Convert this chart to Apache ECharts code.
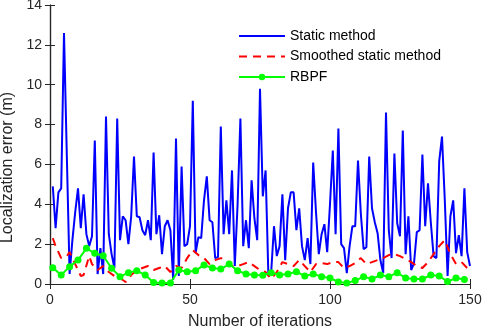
<!DOCTYPE html>
<html>
<head>
<meta charset="utf-8">
<script src="https://cdn.jsdelivr.net/npm/echarts@6/dist/echarts.min.js"></script>
<style>
  html, body { margin: 0; padding: 0; background: #fff; }
  #chart { width: 484px; height: 334px; }
</style>
</head>
<body>
<div id="chart"></div>
<script>
// static method error, iterations 1..150
const staticErr = [
  4.9, 2.8, 4.6, 4.8, 12.6, 6.5, 0.5, 2.2, 3.6, 4.8,
  2.8, 4.5, 2.5, 1.9, 2.4, 7.2, 0.5, 1.8, 0.5, 8.4,
  2.5, 1.5, 0.8, 8.3, 2.2, 3.4, 3.2, 2.0, 3.4, 6.4,
  3.4, 3.35, 2.7, 2.45, 3.2, 2.2, 6.6, 2.5, 3.45, 1.5,
  2.9, 3.2, 2.7, 0.2, 7.3, 0.4, 5.9, 1.9, 2.0, 2.9,
  9.2, 1.55, 2.35, 2.3, 4.2, 5.4, 3.2, 3.1, 1.3, 1.35,
  7.9, 2.5, 4.2, 2.5, 5.7, 0.9, 4.0, 8.3, 1.9, 3.2,
  1.8, 5.2, 3.3, 2.2, 9.8, 4.4, 5.7, 0.4, 0.6, 2.9,
  1.4, 1.9, 4.5, 1.2, 3.8, 4.6, 4.6, 2.7, 3.8, 1.9,
  1.2, 2.3, 1.0, 6.1, 3.6, 1.5, 2.5, 3.0, 1.6, 4.0,
  6.7, 2.5, 7.8, 2.0, 1.8, 0.55, 1.9, 2.9, 2.9, 6.2,
  3.55, 1.75, 1.85, 6.4, 3.8, 3.1, 2.55, 1.2, 0.55, 8.6,
  2.7, 1.3, 6.55, 3.05, 2.4, 7.7, 1.5, 3.4, 0.7, 1.05,
  2.6, 2.7, 6.5, 2.9, 5.05, 3.1, 1.4, 1.3, 6.15, 7.4,
  4.2, 0.4, 3.4, 4.2, 1.55, 2.45, 1.4, 4.8, 1.6, 0.9
]

// smoothed static method
const smoothIter = [1, 2, 4, 6, 7, 9, 11, 12, 14, 15, 17, 19, 21, 23, 25, 27, 29, 31, 33, 35,
  37, 39, 41, 43, 45, 47, 49, 51, 53, 55, 57, 59, 61, 63, 65, 67, 69, 71, 73, 75,
  77, 79, 81, 83, 85, 87, 89, 91, 93, 95, 97, 99, 101, 103, 105, 107, 109, 111, 113, 115,
  117, 119, 121, 123, 125, 127, 129, 131, 133, 135, 137, 139, 141, 143, 145, 147, 149, 150]
const smoothErr = [2.3, 1.9, 1.3, 1.4, 1.6, 1.0, 0.4, 0.45, 1.4, 1.0, 0.7, 0.9, 0.6, 0.4, 0.3, 0.1, 0.45, 0.7, 0.8, 0.9,
  0.7, 0.8, 0.9, 0.6, 0.9, 0.8, 1.3, 1.7, 1.45, 1.3, 1.0, 1.2, 1.3, 1.2, 0.9, 0.9, 1.0, 1.1, 0.9, 0.7,
  0.6, 0.25, 0.6, 1.1, 1.0, 0.9, 1.2, 0.9, 0.6, 1.0, 1.05, 1.0, 1.1, 1.1, 0.8, 0.9, 1.05, 1.3, 1.0, 1.1,
  1.2, 1.3, 1.45, 1.5, 1.4, 1.25, 1.1, 0.9, 0.8, 1.1, 1.5, 1.9, 2.2, 1.5, 1.0, 1.1, 0.8, 0.6]

// RBPF, marker every 3 iterations
const rbpfIter = [1, 4, 7, 10, 13, 16, 19, 22, 25, 28, 31, 34, 37, 40, 43, 46, 49, 52, 55, 58,
  61, 64, 67, 70, 73, 76, 79, 82, 85, 88, 91, 94, 97, 100, 103, 106, 109, 112, 115, 118,
  121, 124, 127, 130, 133, 136, 139, 142, 145, 148]
const rbpfErr = [0.82, 0.45, 0.87, 1.2, 1.79, 1.54, 1.42, 0.79, 0.37, 0.57, 0.67, 0.45, 0.07, 0.05, 0.05, 0.7, 0.62, 0.67, 0.95, 0.8,
  0.75, 1.0, 0.67, 0.5, 0.45, 0.44, 0.57, 0.45, 0.5, 0.62, 0.4, 0.5, 0.37, 0.3, 0.1, 0.05, 0.17, 0.37, 0.25, 0.45,
  0.37, 0.57, 0.3, 0.25, 0.25, 0.45, 0.4, 0.12, 0.3, 0.23]

const xMax = 150
const yMax = 14

const axisColor = '#262626'
const font = 'Liberation Sans, Arial, Helvetica, sans-serif'

const chart = echarts.init(document.getElementById('chart'))

const tickStyle = { show: true, inside: true, length: 5, lineStyle: { color: axisColor, width: 1 } }
const lineStyle = { show: true, lineStyle: { color: axisColor, width: 1.2 } }

chart.setOption({
  animation: false,
  backgroundColor: '#fff',
  textStyle: { fontFamily: font },
  grid: { left: 50, right: 14, top: 5, bottom: 50, outerBoundsMode: 'none', containLabel: false },
  legend: {
    orient: 'vertical',
    left: 233,
    top: 23,
    itemWidth: 46,
    itemHeight: 8,
    itemGap: 4.5,
    textStyle: { fontSize: 14, color: '#000', fontFamily: font, lineHeight: 16 },
    data: [
      { name: 'Static method', itemStyle: { opacity: 0 } },
      { name: 'Smoothed static method', itemStyle: { opacity: 0 } },
      { name: 'RBPF' }
    ]
  },
  xAxis: [
    {
      type: 'value', min: 0, max: xMax, interval: 50, position: 'bottom',
      axisLine: lineStyle, axisTick: tickStyle, splitLine: { show: false },
      axisLabel: { color: axisColor, fontSize: 14, margin: 9 },
      name: 'Number of iterations', nameLocation: 'middle', nameGap: 30,
      nameTextStyle: { color: axisColor, fontSize: 16 }
    },
    {
      type: 'value', min: 0, max: xMax, interval: 50, position: 'top',
      axisLine: lineStyle, axisTick: tickStyle, axisLabel: { show: false }, splitLine: { show: false }
    }
  ],
  yAxis: [
    {
      type: 'value', min: 0, max: yMax, interval: 2, position: 'left',
      axisLine: lineStyle, axisTick: tickStyle, splitLine: { show: false },
      axisLabel: { color: axisColor, fontSize: 14, margin: 8 },
      name: 'Localization error (m)', nameLocation: 'middle', nameGap: 28,
      nameTextStyle: { color: axisColor, fontSize: 16, padding: [0, 46, 0, 0] }
    },
    {
      type: 'value', min: 0, max: yMax, interval: 2, position: 'right',
      axisLine: lineStyle, axisTick: tickStyle, axisLabel: { show: false }, splitLine: { show: false }
    }
  ],
  series: [
    {
      name: 'Static method', type: 'line',
      data: staticErr.map((v, i) => [i + 1, v]),
      showSymbol: false, symbol: 'none',
      lineStyle: { color: '#0000ff', width: 2 },
      itemStyle: { color: '#0000ff' }
    },
    {
      name: 'Smoothed static method', type: 'line',
      data: smoothIter.map((x, i) => [x, smoothErr[i]]),
      showSymbol: false, symbol: 'none',
      lineStyle: { color: '#ff0000', width: 2, type: [8, 6] },
      itemStyle: { color: '#ff0000' }
    },
    {
      name: 'RBPF', type: 'line',
      data: rbpfIter.map((x, i) => [x, rbpfErr[i]]),
      symbol: 'circle', symbolSize: 7, showSymbol: true,
      lineStyle: { color: '#00ff00', width: 2 },
      itemStyle: { color: '#00ff00' }
    }
  ]
})
</script>
</body>
</html>
